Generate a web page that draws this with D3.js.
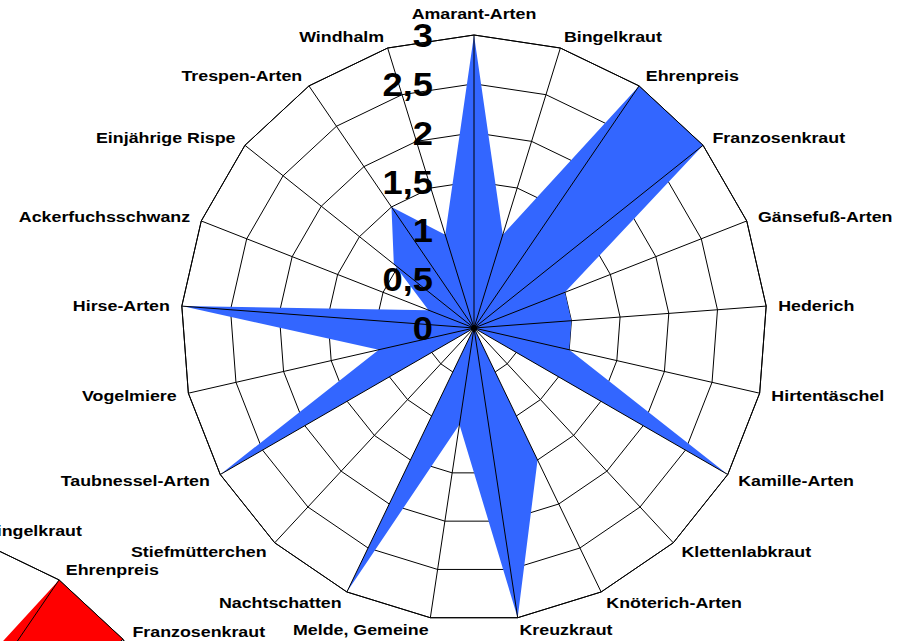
<!DOCTYPE html>
<html><head><meta charset="utf-8">
<script src="https://cdn.jsdelivr.net/npm/d3@7"></script>
<style>body{margin:0;background:#fff;overflow:hidden} svg{display:block}</style>
</head><body>
<script>
const categories = ["Amarant-Arten","Bingelkraut","Ehrenpreis","Franzosenkraut","Gänsefuß-Arten","Hederich","Hirtentäschel","Kamille-Arten","Klettenlabkraut","Knöterich-Arten","Kreuzkraut","Melde, Gemeine","Nachtschatten","Stiefmütterchen","Taubnessel-Arten","Vogelmiere","Hirse-Arten","Ackerfuchsschwanz","Einjährige Rispe","Trespen-Arten","Windhalm"];
const blueValues = [3,1,3,3,1,1,1,3,0,1.5,3,1,3,0,3,1,3,0.5,1.05,1.5,1];
const redValues  = [3,1,3,3,1,1,1,3,0,1.5,3,1,3,0,3,1,3,0.5,1.05,1.5,1];
const tickValues = [0,0.5,1,1.5,2,2.5,3];
const tickLabels = ["0","0,5","1","1,5","2","2,5","3"];

const W = 897, H = 641, R = 293;
const svg = d3.select("body").append("svg").attr("width", W).attr("height", H);
const FONT = "Arial, 'Liberation Sans', Helvetica, sans-serif";

const rScale = d3.scaleLinear().domain([0, 3]).range([0, R]);
const aScale = d3.scaleLinear().domain([0, categories.length]).range([0, 2 * Math.PI]);

function ringPath(v) {
  return d3.lineRadial().angle((d, i) => aScale(i)).radius(() => rScale(v)).curve(d3.curveLinearClosed)(categories);
}

function drawRadar(cx, cy, values, color, fullGrid, showTicks) {
  const g = svg.append("g").attr("transform", `translate(${cx},${cy})`);
  const rings = fullGrid ? tickValues.filter(v => v > 0) : [3];
  g.selectAll("path.ring").data(rings).join("path").attr("class", "ring")
    .attr("d", d => ringPath(d)).attr("fill", "none").attr("stroke", "#000").attr("stroke-width", 1);

  const line = d3.lineRadial().angle((d, i) => aScale(i)).radius(d => rScale(d)).curve(d3.curveLinearClosed);
  g.append("path").attr("d", line(values)).attr("fill", color).attr("stroke", "none");

  g.selectAll("line.spoke").data(categories).join("line").attr("class", "spoke")
    .attr("x1", 0).attr("y1", 0)
    .attr("x2", (d, i) => rScale(3) * Math.sin(aScale(i)))
    .attr("y2", (d, i) => -rScale(3) * Math.cos(aScale(i)))
    .attr("stroke", "#000").attr("stroke-width", 1);
  g.append("path").attr("d", ringPath(3)).attr("fill", "none").attr("stroke", "#000").attr("stroke-width", 1);
  g.append("circle").attr("r", 3).attr("fill", "#000");

  if (showTicks) {
    g.selectAll("text.tick").data(tickValues).join("text").attr("class", "tick")
      .attr("transform", d => `translate(-41,${-rScale(d) + 12}) scale(1.1,1)`)
      .attr("text-anchor", "end").attr("font-family", FONT).attr("font-weight", "bold")
      .attr("font-size", 33).attr("fill", "#000")
      .text((d, i) => tickLabels[i]);
  }

  const LR = R + 12;
  g.selectAll("text.cat").data(categories).join("text").attr("class", "cat")
    .attr("transform", (d, i) => {
      const a = aScale(i), s = Math.sin(a), c = Math.cos(a);
      const x = LR * s, y = -LR * c;
      const by = Math.abs(s) < 0.01 ? (c > 0 ? y - 4 : y + 14) : y + 5.5;
      return `translate(${x},${by}) scale(1.15,1)`;
    })
    .attr("text-anchor", (d, i) => { const s = Math.sin(aScale(i)); return Math.abs(s) < 0.01 ? "middle" : (s > 0 ? "start" : "end"); })
    .attr("font-family", FONT).attr("font-weight", "bold").attr("font-size", 15.5).attr("fill", "#000")
    .text(d => d);
}

drawRadar(-106, 822, redValues, "#ff0000", false, false);
drawRadar(474, 328, blueValues, "#3366ff", true, true);
</script>
</body></html>
